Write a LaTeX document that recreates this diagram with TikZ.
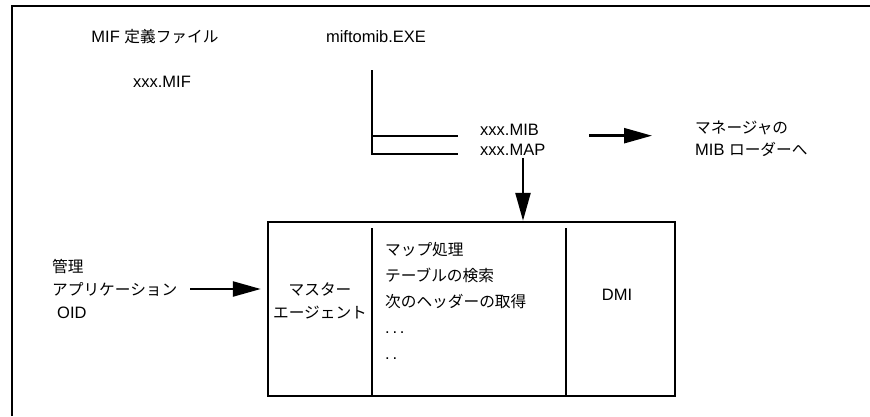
\documentclass[tikz,border=0pt]{standalone}
\usepackage{fontspec}
\setmainfont{Liberation Sans}
\newfontfamily\jp{Noto Sans CJK JP}[Scale=0.95]
\usetikzlibrary{arrows.meta}
\tikzset{>={Triangle[length=28pt,width=15pt]}}
\tikzset{
  txt/.style={inner sep=0pt},
  conn/.style={->,line width=2.4pt},
  bracket/.style={line width=1.7pt},
  wall/.style={line width=2.4pt},
}

\begin{document}
\begin{tikzpicture}[x=1pt,y=1pt,font=\fontsize{16.5}{24}\selectfont]
  \useasboundingbox (0,0) rectangle (870,-416);

  % define to change easily
  \def\boxleft{268}
  \def\boxright{675}
  \def\boxtop{-222}
  \def\boxbot{-396}

  % frame (cut off right and below)
  \draw[line width=2.6pt] (12,-416) -- (12,-6) -- (870,-6);

  % source side
  \node[txt] (mifdef) at (155,-37) {MIF {\jp 定義ファイル}};
  \node[txt] (miffile) at (162,-82) {xxx.MIF};
  \node[txt] (miftomib) at (376,-37) {miftomib.EXE};

  % output bracket
  \draw[bracket] (372,-70) -- (372,-154) -- (458,-154)
    (372,-136) -- (458,-136);
  \node[txt,anchor=west] (mib) at (480,-130) {xxx.MIB};
  \node[txt,anchor=west] (map) at (480,-150) {xxx.MAP};
  \node[txt,anchor=west,align=left,font=\fontsize{16.5}{22}\selectfont] (mgr) at (695,-139)
    {{\jp マネージャの}\\MIB {\jp ローダーへ}};

  % agent box
  \node[draw,wall,inner sep=0pt,minimum width=\boxright pt-\boxleft pt,
    minimum height=174pt] (agent) at ({(\boxleft+\boxright)/2},{(\boxtop+\boxbot)/2}) {};
  \draw[wall] (372,-228) -- (372,\boxbot);
  \draw[wall] (566,-228) -- (566,\boxbot);
  \node[txt,align=center,font=\fontsize{16.5}{23}\selectfont\jp] (master) at (320,-301)
    {マスター\\エージェント};
  \node[txt,anchor=north west,align=left,font=\fontsize{16.5}{26}\selectfont] (procs) at (385,-242)
    {{\jp マップ処理}\\{\jp テーブルの検索}\\{\jp 次のヘッダーの取得}\\.\,.\,.\\.\,.};
  \node[txt] (dmi) at (617,-295) {DMI};

  % management side
  \node[txt,anchor=west,align=left,font=\fontsize{16.5}{23}\selectfont] (mgmt) at (52,-289)
    {{\jp 管理}\\{\jp アプリケーション}\\\hspace{5pt}OID};

  % arrows
  \coordinate (drop) at (523,0);
  \draw[conn] ([yshift=-2pt]map.south -| drop) -- (agent.north -| drop);
  \draw[conn,shorten <=50pt,shorten >=43pt] (mib.base east) -- (mgr.west |- mib.base east);
  \draw[conn,shorten <=13pt,shorten >=6pt] (mgmt.east) -- (agent.west |- mgmt.east);
\end{tikzpicture}
\end{document}
